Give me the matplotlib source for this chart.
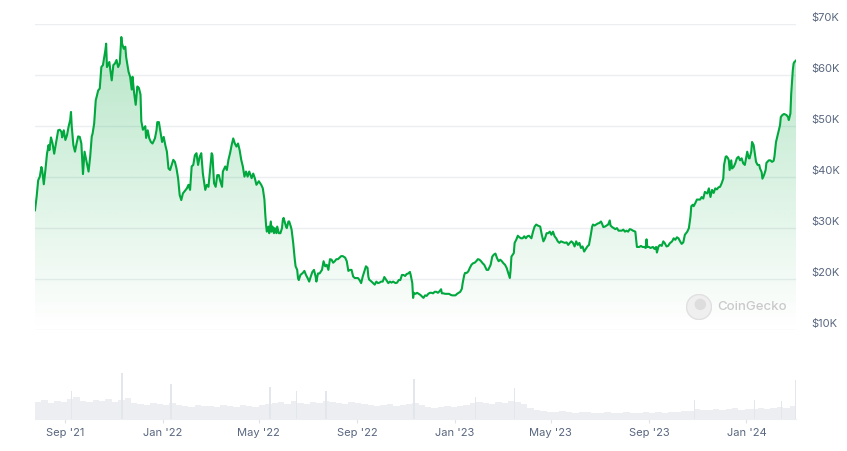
import numpy as np
import pandas as pd
import matplotlib
matplotlib.use("Agg")
import matplotlib.pyplot as plt
import matplotlib.dates as mdates
from matplotlib.patches import Circle

plt.rcParams["font.family"] = ["Inter", "DejaVu Sans"]

# ---------------- data ----------------
start_date = "2021-07-25"

price_days = [
    0, 2, 4, 6, 8, 9, 11, 13, 15, 17, 18, 20, 22, 24, 27, 29, 31, 33, 34, 36, 38, 40, 42, 44, 45, 46, 48, 50,
    52, 54, 56, 58, 60, 62, 65, 67, 69, 71, 72, 74, 76, 77, 79, 81, 83, 85, 88, 89, 90, 93, 94, 96, 98, 100,
    102, 104, 106, 108, 109, 111, 113, 114, 117, 119, 121, 122, 124, 126, 128, 130, 132, 133, 135, 138, 139,
    141, 143, 145, 147, 150, 152, 153, 155, 157, 159, 161, 163, 165, 167, 169, 171, 173, 175, 177, 179, 181,
    183, 185, 187, 190, 192, 194, 196, 198, 200, 202, 204, 206, 208, 210, 213, 215, 217, 219, 221, 222, 224,
    226, 228, 230, 232, 234, 235, 238, 240, 242, 244, 246, 248, 250, 252, 254, 256, 258, 260, 262, 264, 266,
    268, 271, 273, 275, 277, 280, 283, 285,
    287, 288, 289, 290, 292, 293, 295, 296, 297, 299, 300, 302, 303, 305, 307, 309, 310, 311, 314, 315, 317,
    318, 320, 321, 323, 325, 326, 328, 329, 330, 332, 335, 337, 339, 341, 343, 345, 347, 349, 351, 352, 354,
    356, 359, 361, 363, 365, 367, 369, 371, 373, 375, 377, 379, 381, 383, 385, 388, 390, 392, 394, 396, 398,
    400, 402, 404, 406, 408, 410,
    412, 414, 416, 417, 418, 421, 423, 425, 427, 429, 431, 433, 435, 437, 440, 442, 444, 446, 448, 451, 453,
    455, 457, 459, 461, 463, 465, 467, 469, 470, 472, 473, 474, 476, 478, 480, 482, 484, 486, 488, 490, 492,
    494, 496, 498, 500, 502, 504, 506, 508, 509, 511, 513, 516, 518, 520, 522, 524, 526, 528, 530, 532, 534,
    535, 537, 538, 540, 542, 544, 546, 548, 550, 552, 554,
    556, 558, 560, 562, 565, 567, 570, 572, 574, 576, 578, 580, 582, 584, 586, 588, 590, 592, 594, 595, 596,
    599, 600, 602, 604, 606, 608, 610, 612, 614, 616, 618, 621, 623, 625, 627, 629, 632, 634, 636, 638, 640,
    642, 644, 646, 648, 650, 652, 654, 656, 658, 661, 663, 665, 667, 669, 671, 673, 675, 677, 679, 681, 683,
    685, 687, 691, 693,
    695, 697, 698, 700, 702, 704, 706, 708, 709, 711, 713, 715, 717, 719, 720, 722, 724, 726, 728, 730, 732,
    734, 736, 738, 740, 742, 744, 746, 748, 751, 752, 753, 756, 758, 760, 762, 764, 765, 766, 768, 770, 773,
    775, 777, 778, 780, 782, 784, 786, 788, 790, 792, 794, 797, 799, 801, 803, 805, 807, 809, 811, 813, 816,
    818, 820, 821, 823, 824, 826, 828, 830,
    832, 834, 836, 838, 841, 843, 845, 847, 849, 851, 853, 855, 857, 859, 861, 862, 864, 865, 867, 868, 869,
    871, 872, 874, 876, 878, 880, 882, 884, 886, 888, 889, 891, 893, 894, 896, 897, 899, 901, 902, 904, 906,
    907, 909, 910, 912, 914, 915, 918, 920, 922, 924, 925, 927, 929, 932, 933, 935, 937, 940, 942, 943, 945,
    946, 948, 949, 950, 952,
]

price_k = [
    33.5, 36.1, 39.4, 40.1, 42.0, 41.4, 38.6, 41.4, 44.6, 46.3, 45.3, 47.8, 46.6, 44.6, 47.3, 49.2, 49.3, 48.9,
    47.8, 49.2, 47.3, 48.2, 49.9, 51.2, 52.8, 49.9, 46.3, 45.0, 46.6, 48.0, 47.9, 46.6, 40.6, 45.0, 42.7, 41.1,
    44.0, 48.0, 48.5, 50.5, 55.1, 55.7, 57.0, 57.4, 61.6, 62.0, 64.9, 66.2, 61.6, 62.6, 61.3, 59.0, 62.0, 62.3,
    63.0, 61.6, 62.3, 67.5, 66.2, 65.2, 65.6, 63.6, 60.7, 59.7, 57.2, 59.7, 56.5, 54.2, 57.8, 57.5, 56.2, 51.0,
    49.3, 50.0, 47.7,
    49.2, 47.6, 46.9, 46.6, 47.6, 49.2, 50.8, 50.8, 48.9, 46.9, 47.9, 46.3, 45.0, 41.7, 41.4, 42.4, 43.4, 43.0,
    41.7, 39.8, 36.5, 35.5, 36.8, 37.2, 37.8, 38.5, 37.5, 42.1, 42.4, 44.3, 44.7, 42.4, 44.0, 44.7, 40.7, 37.5,
    38.5, 38.1, 41.4, 44.7, 44.3, 38.8, 38.1, 40.4, 40.4, 39.1, 38.1, 41.1, 42.1, 41.4, 43.4, 44.7, 46.3, 47.6,
    46.6, 46.0, 46.6, 45.3, 43.4, 42.1, 40.1, 41.1, 40.1, 41.1, 39.8, 40.7, 39.8, 38.5, 39.2, 38.5, 37.8,
    35.6, 32.9, 30.7, 29.3, 30.3, 29.0, 31.3, 29.3, 30.3, 29.0, 30.0, 29.0, 30.3, 29.0, 29.0, 30.0, 31.6, 32.0,
    30.3, 30.0, 31.3, 31.3, 30.3, 29.7, 27.1, 23.8, 22.5, 21.8, 20.2, 19.8, 20.8, 21.2, 21.6, 20.8, 20.2, 19.5,
    20.5, 21.4, 21.8, 20.5, 19.5, 21.1, 21.1, 21.8, 23.5, 22.5, 22.8, 21.8, 23.9, 23.8, 23.2, 23.5, 23.9, 23.9,
    24.2, 24.5, 24.5, 24.2, 23.5, 21.6, 21.8, 21.8, 20.5, 20.2, 20.2, 20.2, 19.8, 19.2, 20.5,
    21.5, 22.5, 22.2, 20.5, 19.9, 19.5, 19.2, 18.9, 19.5, 19.2, 19.3, 19.5, 19.5, 20.4, 19.7, 19.2, 19.5, 19.3,
    19.5, 19.2, 19.3, 19.8, 19.8, 20.8, 20.8, 20.6, 21.0, 21.1, 21.4, 20.8, 19.2, 16.3, 17.3, 17.1, 17.3, 17.1,
    16.9, 16.6, 16.3, 16.8, 16.7, 17.1, 17.3, 17.3, 17.2, 17.5, 17.5, 17.3, 17.6, 18.0, 17.2, 17.2, 17.1, 17.1,
    17.1, 16.9, 16.8, 16.8, 16.8, 17.1, 17.3, 17.5, 18.1, 19.2, 20.8, 21.2, 21.2, 21.5, 22.2, 22.8, 23.1, 23.2,
    23.5, 23.9,
    23.8, 23.5, 23.1, 22.8, 21.8, 21.8, 22.8, 24.4, 24.8, 25.0, 24.1, 23.5, 23.8, 23.5, 23.1, 22.8, 22.2, 21.2,
    20.2, 21.8, 24.4, 25.1, 27.1, 27.7, 28.5, 28.2, 28.0, 28.0, 28.4, 28.0, 28.4, 28.5, 28.0, 29.3, 30.3, 30.7,
    30.5, 30.3, 28.7, 27.4, 28.0, 29.0, 29.0, 29.3, 28.7, 29.3, 28.4, 28.0, 27.4, 27.1, 27.4, 27.2, 27.1, 27.2,
    26.7, 27.1, 27.4, 27.1, 26.4, 27.4, 26.7, 27.1, 26.1, 26.4, 25.4, 26.4, 26.7,
    28.4, 30.3, 30.7, 30.5, 30.7, 30.9, 31.0, 31.3, 31.0, 30.2, 30.3, 30.5, 30.7, 31.5, 30.5, 30.2, 30.0, 29.8,
    30.0, 29.5, 29.5, 29.5, 29.7, 29.3, 29.5, 29.3, 29.8, 29.7, 29.5, 29.3, 27.7, 26.3, 26.3, 26.5, 26.3, 26.3,
    26.1, 27.8, 26.3, 26.3, 26.1, 26.3, 25.9, 26.3, 25.2, 26.4, 26.7, 26.5, 27.4, 27.0, 26.4, 26.5, 27.0, 27.4,
    28.0, 27.7, 28.2, 28.0, 27.4, 26.9, 27.2, 28.7, 29.3, 30.0, 32.3, 34.3, 34.6, 34.3, 34.9, 35.6, 35.6,
    35.6, 36.1, 35.8, 37.1, 36.8, 37.8, 36.1, 37.5, 36.9, 37.8, 37.6, 38.0, 38.1, 38.8, 39.7, 42.4, 44.0, 44.1,
    43.7, 43.3, 41.4, 43.3, 41.7, 42.0, 42.7, 43.7, 44.0, 43.3, 43.7, 42.7, 42.4, 43.3, 45.0, 43.7, 43.7, 45.0,
    46.9, 46.3, 44.0, 43.0, 42.4, 42.4, 41.7, 41.0, 39.7, 40.4, 41.4, 42.8, 43.3, 43.3, 43.0, 43.2, 44.0, 46.9,
    48.2, 50.2, 51.8, 52.2, 52.4, 52.2, 51.8, 51.2, 52.5, 56.4, 61.0, 62.3, 62.6, 62.9,
]

# trading volume (billions USD), sampled every 8 days
volume_days = list(range(0, 945, 8))
volume_b = [
    42, 48, 40, 45, 42, 50,
    55, 45, 42, 48, 45, 50, 42, 48, 52,
    40, 38, 35, 40, 38, 35, 40,
    35, 32, 30, 35, 32, 32, 30, 35, 32, 30, 35, 32, 30, 35,
    38, 40, 42, 38, 45, 40, 38, 42,
    40, 45, 42, 40, 38, 42, 40, 38,
    35, 32, 35, 38, 32, 35, 38, 40,
    35, 30, 28, 30, 32, 30, 32, 35, 40,
    42, 40, 38, 42, 40, 45, 42, 38,
    28, 22, 20, 18, 18, 20, 18, 15, 18, 18, 15, 15, 18, 15, 15, 18, 15, 15, 18, 15, 18, 15, 18, 18, 20, 20,
    25, 22, 22, 25, 22, 25, 28, 22, 25, 25, 28, 25, 28, 30, 28, 32,
]
# single-day volume spikes
spike_days = [46, 109, 170, 294, 327, 364, 474, 551, 600, 825, 900, 934, 951]
spike_b = [70, 115, 88, 80, 70, 70, 100, 55, 78, 48, 48, 45, 98]

y_ticks_k = [10, 20, 30, 40, 50, 60, 70]
y_tick_labels = ["$10K", "$20K", "$30K", "$40K", "$50K", "$60K", "$70K"]
x_tick_dates = ["2021-09-01", "2022-01-01", "2022-05-01", "2022-09-01",
                "2023-01-01", "2023-05-01", "2023-09-01", "2024-01-01"]
x_tick_labels = ["Sep '21", "Jan '22", "May '22", "Sep '22",
                 "Jan '23", "May '23", "Sep '23", "Jan '24"]

# ---------------- styling ----------------
GREEN = "#00a83e"
TEXT = "#58667e"
GRID = "#eceff2"
VOL = "#eceef1"
VOL_SPIKE = "#e3e6ea"

W, H = 847, 451
fig = plt.figure(figsize=(W / 100, H / 100), dpi=100)
fig.patch.set_facecolor("white")


def rect(x0, y0, x1, y1):
    return [x0 / W, 1 - y1 / H, (x1 - x0) / W, (y1 - y0) / H]


t0 = pd.Timestamp(start_date)


def to_num(days):
    return mdates.date2num((t0 + pd.to_timedelta(days, unit="D")).to_pydatetime())


xn = to_num(price_days)
xmin, xmax = xn[0], xn[-1]

# price axes
ax = fig.add_axes(rect(35, 24.3, 796, 330))
ax.set_facecolor("none")
for yv in y_ticks_k:
    ax.axhline(yv, color=GRID, lw=1.0, zorder=0)

fill = ax.fill_between(xn, price_k, 10, facecolor="none", edgecolor="none")
path = fill.get_paths()[0]
grad = np.zeros((256, 1, 4))
grad[..., 0] = 0 / 255
grad[..., 1] = 168 / 255
grad[..., 2] = 62 / 255
grad[:, 0, 3] = np.linspace(0.30, 0.0, 256)
im = ax.imshow(grad, extent=[xmin, xmax, 10, 70], aspect="auto", origin="upper",
               zorder=1, interpolation="bilinear")
im.set_clip_path(path, transform=ax.transData)

ax.plot(xn, price_k, color=GREEN, lw=1.5, zorder=3, solid_joinstyle="round")
ax.set_xlim(xmin, xmax)
ax.set_ylim(10, 70)
ax.axis("off")

for yv, lab in zip(y_ticks_k, y_tick_labels):
    ypx = 24.3 + (70 - yv) * 305.7 / 60 - 6
    fig.text(811 / W, 1 - ypx / H, lab, ha="left", va="center", fontsize=8, color=TEXT)

# watermark
fig.text(717 / W, 1 - 307 / H, "CoinGecko", ha="left", va="center", fontsize=9.5,
         color="#c9c9c9", fontweight="medium")
wm = fig.add_axes(rect(686, 294, 712, 320))
wm.set_xlim(0, 1)
wm.set_ylim(0, 1)
wm.axis("off")
wm.add_patch(Circle((0.5, 0.5), 0.48, facecolor="#efefef", edgecolor="#e0e0e0", lw=1))
wm.add_patch(Circle((0.55, 0.6), 0.22, facecolor="#dddddd", edgecolor="none"))

# volume axes
axv = fig.add_axes(rect(35, 330, 796, 419))
axv.bar(to_num(volume_days), volume_b, width=8, align="edge",
        color=VOL, edgecolor="none", zorder=1)
axv.bar(to_num(spike_days), spike_b, width=1.6, align="center",
        color=VOL_SPIKE, edgecolor="none", zorder=2)
axv.set_xlim(xmin, xmax)
axv.set_ylim(0, 222)
for s in ["top", "left", "right"]:
    axv.spines[s].set_visible(False)
axv.spines["bottom"].set_color(GRID)
axv.set_yticks([])
tick_nums = mdates.date2num(pd.to_datetime(x_tick_dates).to_pydatetime())
axv.set_xticks(tick_nums)
axv.set_xticklabels(x_tick_labels, fontsize=8, color=TEXT)
axv.tick_params(axis="x", length=3, color="#dfe3e8", pad=3.5)

fig.savefig("out.png", dpi=100, facecolor="white")
